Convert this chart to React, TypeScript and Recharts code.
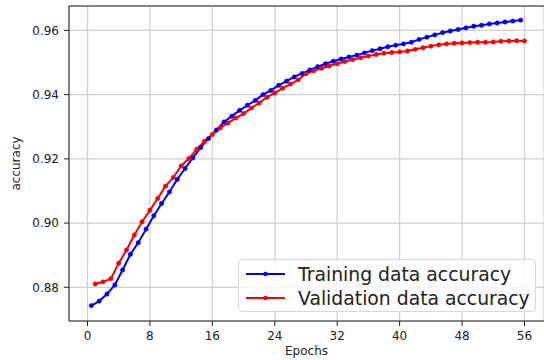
import { LineChart, Line, XAxis, YAxis, CartesianGrid, ReferenceLine } from "recharts";

const trainEpochs = [
  0.5, 1.5, 2.5, 3.5, 4.5, 5.5, 6.5, 7.5, 8.5, 9.5, 10.5, 11.5, 12.5, 13.5,
  14.5, 15.5, 16.5, 17.5, 18.5, 19.5, 20.5, 21.5, 22.5, 23.5, 24.5, 25.5, 26.5,
  27.5, 28.5, 29.5, 30.5, 31.5, 32.5, 33.5, 34.5, 35.5, 36.5, 37.5, 38.5, 39.5,
  40.5, 41.5, 42.5, 43.5, 44.5, 45.5, 46.5, 47.5, 48.5, 49.5, 50.5, 51.5, 52.5,
  53.5, 54.5, 55.5,
];
const trainAcc = [
  0.8743, 0.8757, 0.8779, 0.8807, 0.8854, 0.8903, 0.8939, 0.8981, 0.9023,
  0.9061, 0.9097, 0.9136, 0.917, 0.9203, 0.9235, 0.9263, 0.9289, 0.9315,
  0.9333, 0.9351, 0.9367, 0.9382, 0.94, 0.9413, 0.9429, 0.9442, 0.9455,
  0.9466, 0.9477, 0.9487, 0.9496, 0.9504, 0.9511, 0.9517, 0.9523, 0.953,
  0.9537, 0.9543, 0.9549, 0.9554, 0.9558, 0.9563, 0.9572, 0.9579, 0.9586,
  0.9593, 0.9598, 0.9603, 0.9608, 0.9613, 0.9616, 0.962, 0.9623, 0.9626,
  0.9629, 0.9632,
];

const valEpochs = [
  1, 2, 3, 4, 5, 6, 7, 8, 9, 10, 11, 12, 13, 14, 15, 16, 17, 18, 19, 20, 21,
  22, 23, 24, 25, 26, 27, 28, 29, 30, 31, 32, 33, 34, 35, 36, 37, 38, 39, 40,
  41, 42, 43, 44, 45, 46, 47, 48, 49, 50, 51, 52, 53, 54, 55, 56,
];
const valAcc = [
  0.881, 0.8817, 0.8827, 0.8875, 0.8916, 0.8963, 0.9004, 0.904, 0.9077,
  0.9115, 0.9142, 0.9178, 0.9201, 0.923, 0.9255, 0.9276, 0.9296, 0.9312,
  0.9327, 0.9341, 0.9358, 0.9374, 0.9392, 0.9405, 0.942, 0.9433, 0.9446,
  0.9465, 0.9474, 0.9482, 0.9489, 0.9496, 0.9503, 0.9509, 0.9515, 0.952,
  0.9525, 0.9529, 0.9531, 0.9533, 0.9536, 0.9541, 0.9546, 0.9551, 0.9555,
  0.9558, 0.956, 0.9561, 0.9562, 0.9563, 0.9563, 0.9564, 0.9566, 0.9567,
  0.9568, 0.9567,
];

const xTicks = [0, 8, 16, 24, 32, 40, 48, 56];
const yTicks = [0.88, 0.9, 0.92, 0.94, 0.96];

const X_MIN = -2.37;
const X_MAX = 58.5;
const Y_MIN = 0.8695;
const Y_MAX = 0.9676;

const FONT = "'DejaVu Sans', sans-serif";
const tickStyle = { fontSize: 12, fill: "#222", fontFamily: FONT };

const trainData = trainEpochs.map((epoch, i) => ({ epoch, acc: trainAcc[i] }));
const valData = valEpochs.map((epoch, i) => ({ epoch, acc: valAcc[i] }));

function LegendRow({ color, label }: { color: string; label: string }) {
  return (
    <div style={{ display: "flex", alignItems: "center", height: 24 }}>
      <svg width={53} height={24} style={{ flex: "none" }}>
        <line x1={7} y1={12} x2={46} y2={12} stroke={color} strokeWidth={2} />
        <circle cx={26.5} cy={12} r={2.2} fill={color} />
      </svg>
      <span style={{ marginLeft: 6, whiteSpace: "nowrap" }}>{label}</span>
    </div>
  );
}

export default function App() {
  return (
    <div style={{ position: "relative", width: 544, height: 360, background: "#fff" }}>
      <style>{`body{margin:0}`}</style>
      <LineChart width={544} height={360} margin={{ top: 6, right: 0, bottom: 0, left: 0 }}>
        <CartesianGrid stroke="#cfcfcf" strokeWidth={1.2} />
        <XAxis
          type="number"
          dataKey="epoch"
          domain={[X_MIN, X_MAX]}
          ticks={xTicks}
          allowDataOverflow
          height={39}
          tickSize={5}
          tickMargin={5}
          tick={tickStyle}
          stroke="#222"
          label={{
            value: "Epochs",
            position: "insideBottom",
            offset: 5,
            style: { fontSize: 12, fill: "#222", fontFamily: FONT },
          }}
        />
        <YAxis
          type="number"
          domain={[Y_MIN, Y_MAX]}
          ticks={yTicks}
          allowDataOverflow
          width={69}
          tickSize={5}
          tickMargin={5}
          tick={tickStyle}
          tickFormatter={(v) => Number(v).toFixed(2)}
          stroke="#222"
          label={{
            value: "accuracy",
            angle: -90,
            position: "insideLeft",
            offset: 16,
            style: { fontSize: 12, fill: "#222", fontFamily: FONT, textAnchor: "middle" },
          }}
        />
        <ReferenceLine y={Y_MAX} stroke="#222" strokeWidth={1} ifOverflow="visible" />
        <Line
          data={trainData}
          dataKey="acc"
          type="linear"
          stroke="#0000ff"
          strokeWidth={2}
          dot={{ r: 2.2, fill: "#0000ff", stroke: "#0000ff", strokeWidth: 0.5 }}
          activeDot={false}
          isAnimationActive={false}
        />
        <Line
          data={valData}
          dataKey="acc"
          type="linear"
          stroke="#ff0000"
          strokeWidth={2}
          dot={{ r: 2.2, fill: "#ff0000", stroke: "#ff0000", strokeWidth: 0.5 }}
          activeDot={false}
          isAnimationActive={false}
        />
      </LineChart>
      <div
        style={{
          position: "absolute",
          left: 238,
          top: 259,
          width: 298,
          height: 53,
          boxSizing: "border-box",
          border: "1px solid #d9d9d9",
          borderRadius: 4,
          background: "rgba(255,255,255,0.8)",
          fontFamily: FONT,
          fontSize: 18.8,
          color: "#222",
          paddingTop: 2,
        }}
      >
        <LegendRow color="#0000ff" label="Training data accuracy" />
        <LegendRow color="#ff0000" label="Validation data accuracy" />
      </div>
    </div>
  );
}
